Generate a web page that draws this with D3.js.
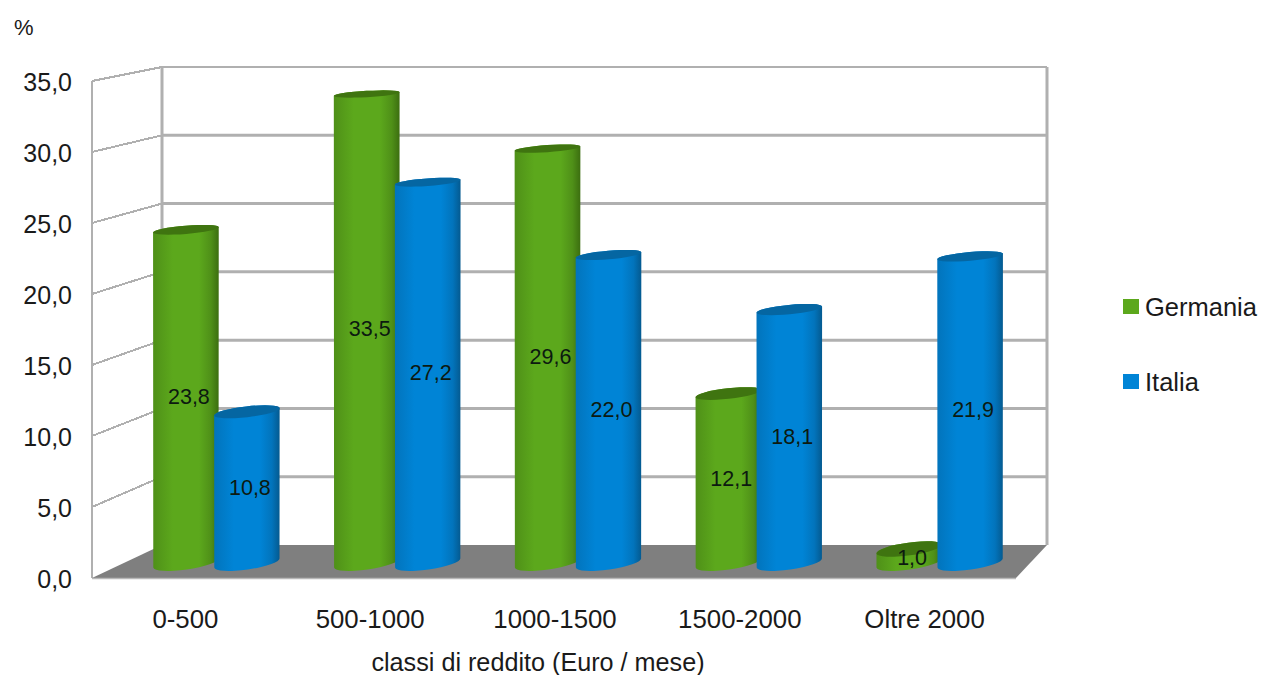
<!DOCTYPE html>
<html>
<head>
<meta charset="utf-8">
<script src="https://cdn.jsdelivr.net/npm/d3@7"></script>
<style>
  html, body { margin: 0; padding: 0; background: #fff; }
  svg { display: block; }
  text { font-family: "Liberation Sans", Arial, sans-serif; fill: #1a1a1a; }
</style>
</head>
<body>
<svg id="chart" width="1261" height="675"></svg>
<script>
const categories = ["0-500", "500-1000", "1000-1500", "1500-2000", "Oltre 2000"];
const seriesNames = ["Germania", "Italia"];
const germania = [23.8, 33.5, 29.6, 12.1, 1.0];
const italia = [10.8, 27.2, 22.0, 18.1, 21.9];
const yTicks = [0, 5, 10, 15, 20, 25, 30, 35];
const seriesColors = {
  Germania: { dark: "#3c6e10", edge: "#4f9018", main: "#5ca81c", cap: "#3f7410" },
  Italia:   { dark: "#045a90", edge: "#0274bc", main: "#0084d6", cap: "#0566a2" }
};

const svg = d3.select("#chart");
const fmt = v => v.toFixed(1).replace(".", ",");

// The box is drawn in a simple oblique projection: a front plane, a back wall,
// and a plane in between where the cylinders stand.
const yFront = d3.scaleLinear().domain([0, 35]).range([578, 81]);
const yBack = d3.scaleLinear().domain([0, 35]).range([545, 67]);
const yBar = d3.scaleLinear().domain([0, 35]).range([563, 73]);
const xFront = d3.scaleBand().domain(categories).range([92, 1016]);
const xBar = d3.scaleBand().domain(categories).range([126, 1030]);
const xSeries = d3.scaleBand().domain(seriesNames).range([-61, 61]);

// Ellipses flatten and level out as they rise towards the viewer's eye line
const capRy = d3.scaleLinear().domain([0, 35]).range([6.5, 3]);
const capTilt = d3.scaleLinear().domain([0, 35]).range([8, 3]);

const wallLeft = 162, wallRight = 1047, frontLeft = 92, frontRight = 1016;
const gridColor = "#b0b0b0";

// Gradients giving the cylinders their shading
const defs = svg.append("defs");
seriesNames.forEach(name => {
  const c = seriesColors[name];
  const grad = defs.append("linearGradient").attr("id", "cyl-" + name)
    .attr("x1", 0).attr("x2", 1).attr("y1", 0).attr("y2", 0);
  [[0, c.edge], [0.3, c.main], [0.7, c.main], [0.88, c.edge], [1, c.dark]].forEach(([o, col]) =>
    grad.append("stop").attr("offset", o).attr("stop-color", col));
});

// Back wall gridlines and the slanted side wall lines
const grid = svg.append("g").attr("stroke", gridColor).attr("fill", "none");
grid.selectAll("line.back").data(yTicks.slice(1)).join("line").attr("class", "back")
  .attr("x1", wallLeft).attr("x2", wallRight)
  .attr("y1", d => yBack(d)).attr("y2", d => yBack(d))
  .attr("stroke-width", d => d === 35 ? 2 : 3);
grid.selectAll("line.side").data(yTicks.slice(1)).join("line").attr("class", "side")
  .attr("x1", frontLeft).attr("x2", wallLeft)
  .attr("y1", d => yFront(d)).attr("y2", d => yBack(d))
  .attr("stroke-width", 2)
  .attr("shape-rendering", "crispEdges");
grid.append("line").attr("x1", frontLeft).attr("x2", frontLeft)
  .attr("y1", yFront(35)).attr("y2", yFront(0)).attr("stroke-width", 2);
grid.append("line").attr("x1", wallLeft).attr("x2", wallLeft)
  .attr("y1", yBack(35)).attr("y2", yBack(0)).attr("stroke-width", 3);
grid.append("line").attr("x1", wallRight).attr("x2", wallRight)
  .attr("y1", yBack(35)).attr("y2", yBack(0)).attr("stroke-width", 3);

// Floor
svg.append("path")
  .attr("d", d3.line()([[frontLeft, yFront(0)], [wallLeft, yBack(0)], [wallRight, yBack(0)], [frontRight, yFront(0)]]) + "Z")
  .attr("fill", "#7f7f7f");
svg.append("line").attr("x1", frontLeft).attr("x2", frontRight)
  .attr("y1", yFront(0) + 0.5).attr("y2", yFront(0) + 0.5)
  .attr("stroke", "#b8b8b8").attr("stroke-width", 1.5);

// Cylinder outline and top cap for one value
function rimEnds(cx, cy, rx, tilt) {
  const rad = tilt * Math.PI / 180;
  const dx = rx * Math.cos(rad), dy = rx * Math.sin(rad);
  return { lx: cx - dx, ly: cy + dy, rx: cx + dx, ry: cy - dy };
}
function cylinderParts(cx, value, radius) {
  const yTop = yBar(value), yBottom = yBar(0);
  const topRy = capRy(value), topTilt = capTilt(value);
  const baseRy = capRy(0), baseTilt = capTilt(0);
  const t = rimEnds(cx, yTop, radius, topTilt);
  const b = rimEnds(cx, yBottom, radius, baseTilt);
  const topArc = `A${radius} ${topRy} ${-topTilt}`;
  const baseArc = `A${radius} ${baseRy} ${-baseTilt}`;
  return {
    body: `M${t.lx} ${t.ly}L${b.lx} ${b.ly}${baseArc} 0 0 ${b.rx} ${b.ry}` +
          `L${t.rx} ${t.ry}${topArc} 0 0 ${t.lx} ${t.ly}Z`,
    cap: `M${t.lx} ${t.ly}${topArc} 0 1 ${t.rx} ${t.ry}` +
         `${topArc} 0 1 ${t.lx} ${t.ly}Z`
  };
}

const barRows = categories.flatMap((cat, i) => [
  { cat, name: "Germania", value: germania[i] },
  { cat, name: "Italia", value: italia[i] }
]);
const barX = d => xBar(d.cat) + xBar.bandwidth() / 2 + xSeries(d.name) + xSeries.bandwidth() / 2;
const radius = xSeries.bandwidth() * 0.54;

const bars = svg.append("g").selectAll("g").data(barRows).join("g");
bars.append("path")
  .attr("d", d => cylinderParts(barX(d), d.value, radius).body)
  .attr("fill", d => `url(#cyl-${d.name})`);
bars.append("path")
  .attr("d", d => cylinderParts(barX(d), d.value, radius).cap)
  .attr("fill", d => seriesColors[d.name].cap);

// Value labels at half the height of each cylinder
svg.append("g").selectAll("text").data(barRows).join("text")
  .attr("x", d => barX(d) + 3)
  .attr("y", d => (yBar(0) + yBar(d.value)) / 2 + (d.value < 2 ? 1 : 0))
  .attr("dy", "0.36em")
  .attr("text-anchor", "middle")
  .attr("font-size", 21.5)
  .style("fill", "#0c1a10")
  .text(d => fmt(d.value));

// Axis labels
svg.append("g").selectAll("text").data(yTicks).join("text")
  .attr("x", 72).attr("y", d => yFront(d) + 1)
  .attr("dy", "0.36em").attr("text-anchor", "end")
  .attr("font-size", 25).text(fmt);
svg.append("g").selectAll("text").data(categories).join("text")
  .attr("x", d => xFront(d) + xFront.bandwidth() / 2 + 1).attr("y", 619)
  .attr("dy", "0.36em").attr("text-anchor", "middle")
  .attr("font-size", 25.8).text(d => d);
svg.append("text").attr("x", 538).attr("y", 662).attr("dy", "0.36em")
  .attr("text-anchor", "middle").attr("font-size", 25.2)
  .text("classi di reddito (Euro / mese)");
svg.append("text").attr("x", 14).attr("y", 27).attr("dy", "0.36em")
  .attr("font-size", 22).text("%");

// Legend
const legendY = d3.scalePoint().domain(seriesNames).range([307, 382]);
const legend = svg.append("g").selectAll("g").data(seriesNames).join("g")
  .attr("transform", d => `translate(1123,${legendY(d)})`);
legend.append("rect").attr("x", 0).attr("y", -8).attr("width", 16).attr("height", 15)
  .attr("fill", d => seriesColors[d].main);
legend.append("text").attr("x", 22).attr("y", 0).attr("dy", "0.36em")
  .attr("font-size", 25.5).text(d => d);
</script>
</body>
</html>
